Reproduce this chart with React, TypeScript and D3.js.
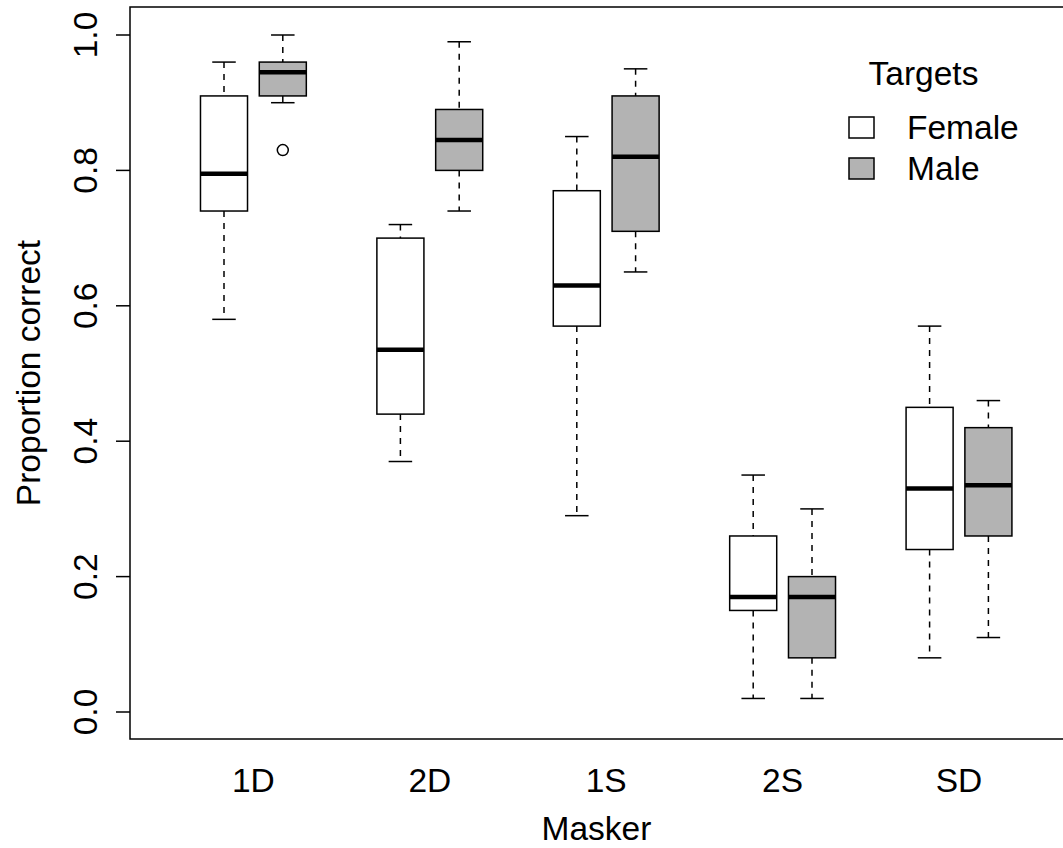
import React from "react";
import * as d3 from "d3";

const maskers = ["1D", "2D", "1S", "2S", "SD"];
const targets = ["Female", "Male"];
const fills = ["#FFFFFF", "#B3B3B3"];
// five-number summaries: [lower whisker, Q1, median, Q3, upper whisker]
const femaleStats: number[][] = [
  [0.58, 0.74, 0.795, 0.91, 0.96],
  [0.37, 0.44, 0.535, 0.70, 0.72],
  [0.29, 0.57, 0.63, 0.77, 0.85],
  [0.02, 0.15, 0.17, 0.26, 0.35],
  [0.08, 0.24, 0.33, 0.45, 0.57],
];
const maleStats: number[][] = [
  [0.90, 0.91, 0.945, 0.96, 1.0],
  [0.74, 0.80, 0.845, 0.89, 0.99],
  [0.65, 0.71, 0.82, 0.91, 0.95],
  [0.02, 0.08, 0.17, 0.20, 0.30],
  [0.11, 0.26, 0.335, 0.42, 0.46],
];
const femaleOutliers: number[][] = [[], [], [], [], []];
const maleOutliers: number[][] = [[0.83], [], [], [], []];
const yTicks = [0, 0.2, 0.4, 0.6, 0.8, 1.0];

const W = 1063;
const H = 848;
const FONT = "'Liberation Sans', Arial, Helvetica, sans-serif";
const FS = 33.5;

export default function App() {
  const y = d3.scaleLinear().domain([0, 1]).range([712, 35]);
  const x = d3.scaleLinear().domain([1, 14]).range([224, 988.4]);
  const unit = x(2) - x(1);
  const boxW = 0.8 * unit;
  const capW = 0.4 * unit;
  const plotL = 130, plotT = 7, plotB = 739, plotR = 1064;

  const boxes: { pos: number; s: number[]; fill: string; out: number[]; key: string }[] = [];
  maskers.forEach((m, i) => {
    boxes.push({ pos: 1 + 3 * i, s: femaleStats[i], fill: fills[0], out: femaleOutliers[i], key: m + "F" });
    boxes.push({ pos: 2 + 3 * i, s: maleStats[i], fill: fills[1], out: maleOutliers[i], key: m + "M" });
  });

  return (
    <svg width={W} height={H} style={{ position: "absolute", left: 0, top: 0, background: "#fff" }}
      fontFamily={FONT}>
      <rect x={0} y={0} width={W} height={H} fill="#fff" />
      {boxes.map((b) => {
        const cx = x(b.pos);
        const [lo, q1, med, q3, hi] = b.s;
        return (
          <g key={b.key}>
            <line x1={cx} x2={cx} y1={y(hi)} y2={y(q3)} stroke="#000" strokeWidth={1.5} strokeDasharray="6,6" />
            <line x1={cx} x2={cx} y1={y(q1)} y2={y(lo)} stroke="#000" strokeWidth={1.5} strokeDasharray="6,6" />
            <line x1={cx - capW / 2} x2={cx + capW / 2} y1={y(hi)} y2={y(hi)} stroke="#000" strokeWidth={1.5} />
            <line x1={cx - capW / 2} x2={cx + capW / 2} y1={y(lo)} y2={y(lo)} stroke="#000" strokeWidth={1.5} />
            <rect x={cx - boxW / 2} y={y(q3)} width={boxW} height={y(q1) - y(q3)} fill={b.fill} stroke="#000" strokeWidth={1.5} />
            <line x1={cx - boxW / 2} x2={cx + boxW / 2} y1={y(med)} y2={y(med)} stroke="#000" strokeWidth={4.5} />
            {b.out.map((o, j) => (
              <circle key={j} cx={cx} cy={y(o)} r={5.5} fill="none" stroke="#000" strokeWidth={1.5} />
            ))}
          </g>
        );
      })}
      <rect x={plotL} y={plotT} width={plotR - plotL} height={plotB - plotT} fill="none" stroke="#000" strokeWidth={1.5} />
      {yTicks.map((t) => (
        <g key={t}>
          <line x1={plotL - 14} x2={plotL} y1={y(t)} y2={y(t)} stroke="#000" strokeWidth={1.5} />
          <text transform={`translate(97,${y(t)}) rotate(-90)`} textAnchor="middle" fontSize={FS}>
            {t.toFixed(1)}
          </text>
        </g>
      ))}
      {maskers.map((m, i) => (
        <text key={m} x={x(1.5 + 3 * i)} y={792} textAnchor="middle" fontSize={FS}>{m}</text>
      ))}
      <text x={(plotL + 1063) / 2} y={840} textAnchor="middle" fontSize={FS}>Masker</text>
      <text transform={`translate(40,${(plotT + plotB) / 2}) rotate(-90)`} textAnchor="middle" fontSize={FS}>
        Proportion correct
      </text>
      <text x={923.5} y={85} textAnchor="middle" fontSize={FS}>Targets</text>
      {targets.map((t, i) => (
        <g key={t}>
          <rect x={849} y={117 + 41 * i} width={25} height={21} fill={fills[i]} stroke="#000" strokeWidth={1.5} />
          <text x={907} y={139 + 41 * i} fontSize={FS}>{t}</text>
        </g>
      ))}
    </svg>
  );
}
